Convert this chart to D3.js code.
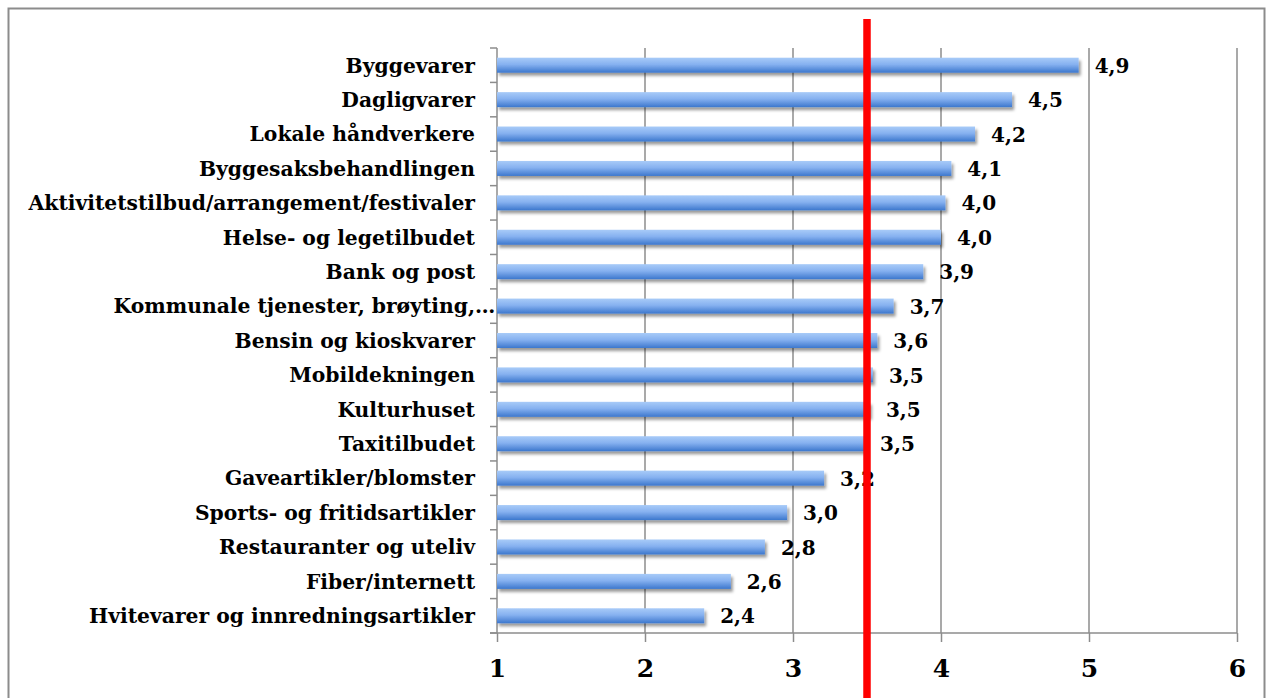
<!DOCTYPE html>
<html>
<head>
<meta charset="utf-8">
<title>bar chart</title>
<style>
  body { margin: 0; background: #fff; }
  svg text { font-family: "DejaVu Serif", serif; font-weight: bold; fill: #000; }
</style>
</head>
<body>
<svg width="1270" height="698"></svg>
<script src="https://cdn.jsdelivr.net/npm/d3@7"></script>
<script>

var categories = [
  "Byggevarer",
  "Dagligvarer",
  "Lokale håndverkere",
  "Byggesaksbehandlingen",
  "Aktivitetstilbud/arrangement/festivaler",
  "Helse- og legetilbudet",
  "Bank og post",
  "Kommunale tjenester, brøyting,…",
  "Bensin og kioskvarer",
  "Mobildekningen",
  "Kulturhuset",
  "Taxitilbudet",
  "Gaveartikler/blomster",
  "Sports- og fritidsartikler",
  "Restauranter og uteliv",
  "Fiber/internett",
  "Hvitevarer og innredningsartikler"
];

var values = [4.93, 4.48, 4.23, 4.07, 4.03, 4.00, 3.88, 3.68, 3.57, 3.54, 3.52, 3.48, 3.21, 2.96, 2.81, 2.58, 2.40];

var xTicks = [1, 2, 3, 4, 5, 6];

var average = 3.5;

var svg = d3.select("svg"),
    margin = {top: 48, right: 33, bottom: 65, left: 497},
    width = +svg.attr("width") - margin.left - margin.right,
    height = +svg.attr("height") - margin.top - margin.bottom;

// outer frame
svg.append("rect")
    .attr("x", 8.5)
    .attr("y", 8.5)
    .attr("width", 1256)
    .attr("height", 720)
    .attr("fill", "none")
    .attr("stroke", "#8c8c8c")
    .attr("stroke-width", 2);

var defs = svg.append("defs");

var grad = defs.append("linearGradient")
    .attr("id", "barGrad")
    .attr("x1", 0).attr("y1", 0).attr("x2", 0).attr("y2", 1);
grad.append("stop").attr("offset", "0%").attr("stop-color", "#a8cbf8");
grad.append("stop").attr("offset", "45%").attr("stop-color", "#86b1f0");
grad.append("stop").attr("offset", "100%").attr("stop-color", "#3c77cd");

var shadow = defs.append("filter")
    .attr("id", "shadow")
    .attr("x", "-5%").attr("y", "-50%")
    .attr("width", "110%").attr("height", "220%");
shadow.append("feDropShadow")
    .attr("dx", 2)
    .attr("dy", 3)
    .attr("stdDeviation", 1.8)
    .attr("flood-color", "#000")
    .attr("flood-opacity", 0.4);

var g = svg.append("g").attr("transform", "translate(" + margin.left + "," + margin.top + ")");

var x = d3.scaleLinear()
    .domain([1, 6])
    .range([0, width]);

var y = d3.scaleBand()
    .domain(categories)
    .range([0, height])
    .padding(0);

var barH = 15;

// vertical gridlines
g.append("g")
  .selectAll("line")
  .data(xTicks.slice(1))
  .enter().append("line")
    .attr("x1", function(d) { return x(d); })
    .attr("x2", function(d) { return x(d); })
    .attr("y1", 0)
    .attr("y2", height)
    .attr("stroke", "#8c8c8c")
    .attr("stroke-width", 1.5);

// x axis
var xAxis = g.append("g")
    .attr("transform", "translate(0," + height + ")")
    .call(d3.axisBottom(x).tickValues(xTicks).tickFormat(d3.format("d")).tickSize(9).tickPadding(17));
xAxis.select(".domain").remove();
xAxis.selectAll(".tick line").attr("stroke", "#8c8c8c").attr("stroke-width", 1.5);
xAxis.selectAll(".tick text")
    .style("font-size", "25px")
    .style("font-family", "'DejaVu Serif', serif")
    .style("font-weight", "bold")
    .attr("fill", "#000");

// x baseline and y axis line
g.append("line")
    .attr("x1", -7).attr("x2", width)
    .attr("y1", height).attr("y2", height)
    .attr("stroke", "#8c8c8c").attr("stroke-width", 1.5);
g.append("line")
    .attr("x1", 0).attr("x2", 0)
    .attr("y1", 0).attr("y2", height)
    .attr("stroke", "#8c8c8c").attr("stroke-width", 1.5);

// y ticks at category boundaries
var bounds = categories.map(function(c) { return y(c); }).concat([height]);
g.append("g")
  .selectAll("line")
  .data(bounds)
  .enter().append("line")
    .attr("x1", -7).attr("x2", 0)
    .attr("y1", function(d) { return d; })
    .attr("y2", function(d) { return d; })
    .attr("stroke", "#8c8c8c")
    .attr("stroke-width", 1.5);

// category labels
var labels = g.append("g")
  .selectAll("g")
  .data(categories)
  .enter().append("g")
    .attr("transform", function(d) { return "translate(-22," + (y(d) + y.bandwidth() / 2) + ")"; });

labels.append("text")
    .attr("text-anchor", "end")
    .attr("dy", "0.36em")
    .style("font-size", "20.3px")
    .text(function(d) { return d.replace(/…$/, ""); });

labels.filter(function(d) { return /…$/.test(d); })
  .append("text")
    .attr("text-anchor", "start")
    .attr("dy", "0.36em")
    .style("font-size", "20.3px")
    .text("…");

// bars
var data = categories.map(function(c, i) { return {name: c, value: values[i]}; });

g.append("g")
  .selectAll("rect")
  .data(data)
  .enter().append("rect")
    .attr("x", x(1))
    .attr("y", function(d) { return y(d.name) + y.bandwidth() / 2 - barH / 2; })
    .attr("width", function(d) { return x(d.value) - x(1); })
    .attr("height", barH)
    .attr("fill", "url(#barGrad)")
    .attr("filter", "url(#shadow)");

// value labels
var fmt = function(v) { return d3.format(".1f")(v).replace(".", ","); };

g.append("g")
  .selectAll("text")
  .data(data)
  .enter().append("text")
    .attr("x", function(d) { return x(d.value) + 16; })
    .attr("y", function(d) { return y(d.name) + y.bandwidth() / 2; })
    .attr("dy", "0.38em")
    .style("font-size", "20px")
    .text(function(d) { return fmt(d.value); });

// red average line
g.append("line")
    .attr("x1", x(average)).attr("x2", x(average))
    .attr("y1", -29).attr("y2", height + margin.bottom + 5)
    .attr("stroke", "#ff0000")
    .attr("stroke-width", 7.5);

</script>
</body>
</html>
